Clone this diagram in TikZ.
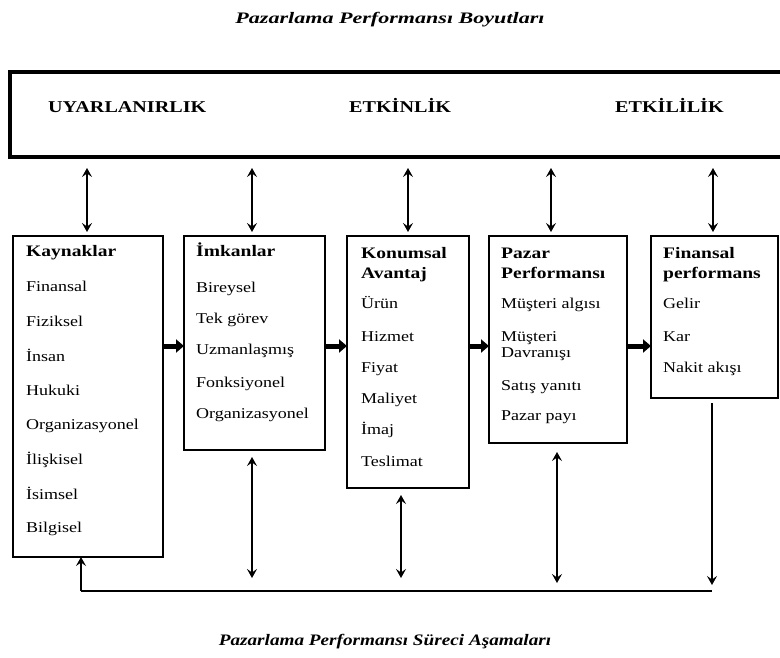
\documentclass[tikz,border=0pt]{standalone}
\usepackage{fontspec}
\setmainfont{Liberation Serif}
\newfontfamily\itemfont[FakeStretch=1.2]{Liberation Serif}
\newfontfamily\headfont[FakeStretch=1.22]{Liberation Serif}
\newfontfamily\topcapfont[FakeStretch=1.38]{Liberation Serif}
\newfontfamily\botcapfont[FakeStretch=1.2]{Liberation Serif}
\usetikzlibrary{arrows.meta}

\tikzset{
  panel/.style={draw, line width=2.8pt, anchor=north west, inner sep=0pt, outer sep=0pt},
  item/.style={anchor=base west, inner sep=0pt, font=\itemfont\fontsize{15}{17}\selectfont},
  head/.style={anchor=base west, inner sep=0pt, font=\headfont\bfseries\fontsize{16}{19}\selectfont},
  dimlabel/.style={anchor=base west, inner sep=0pt, font=\headfont\bfseries\fontsize{16.5}{19}\selectfont},
  caption/.style={anchor=base, inner sep=0pt},
  tip/.tip={Stealth[length=9pt,width=10pt,inset=3.5pt]},
  dbl/.style={line width=2.5pt, tip-tip},
  down/.style={line width=2.5pt, -tip},
  flow/.style={line width=5pt, -{Triangle[length=8pt,width=13pt]}},
  rail/.style={line width=2.6pt},
}

\begin{document}
\begin{tikzpicture}[x=1pt, y=-1pt]
  \useasboundingbox (0,0) rectangle (780,657);

  % caption above the dimensions band
  \node[caption, font=\topcapfont\bfseries\itshape\fontsize{16}{18}\selectfont] (topcap) at (390,23) {Pazarlama Performansı Boyutları};

  % dimensions band
  \node[panel, line width=3.8pt, minimum width=800pt, minimum height=85pt] (dims) at (10,72) {};
  \node[dimlabel] (uyar) at (48,112) {UYARLANIRLIK};
  \node[dimlabel] (etkin) at (349,112) {ETKİNLİK};
  \node[dimlabel] (etkil) at (615,112) {ETKİLİLİK};

  % process stage boxes
  \node[panel, minimum width=150pt, minimum height=321pt] (kay) at (13,236) {};
  \node[panel, minimum width=141pt, minimum height=214pt] (imk) at (184,236) {};
  \node[panel, minimum width=122pt, minimum height=252pt] (kon) at (347,236) {};
  \node[panel, minimum width=138pt, minimum height=207pt] (paz) at (489,236) {};
  \node[panel, minimum width=127pt, minimum height=162pt] (fin) at (651,236) {};

  % Kaynaklar
  \node[head] (kay0) at (26,256) {Kaynaklar};
  \node[item] (kay1) at (26,291) {Finansal};
  \node[item] (kay2) at (26,326) {Fiziksel};
  \node[item] (kay3) at (26,361) {İnsan};
  \node[item] (kay4) at (26,395) {Hukuki};
  \node[item] (kay5) at (26,429) {Organizasyonel};
  \node[item] (kay6) at (26,464) {İlişkisel};
  \node[item] (kay7) at (26,499) {İsimsel};
  \node[item] (kay8) at (26,532) {Bilgisel};

  % Imkanlar
  \node[head] (imk0) at (196,256) {İmkanlar};
  \node[item] (imk1) at (196,292) {Bireysel};
  \node[item] (imk2) at (196,323) {Tek görev};
  \node[item] (imk3) at (196,354) {Uzmanlaşmış};
  \node[item] (imk4) at (196,387) {Fonksiyonel};
  \node[item] (imk5) at (196,418) {Organizasyonel};

  % Konumsal Avantaj
  \node[head] (kon0) at (361,258) {Konumsal};
  \node[head] (kon0b) at (361,278) {Avantaj};
  \node[item] (kon1) at (361,308) {Ürün};
  \node[item] (kon2) at (361,341) {Hizmet};
  \node[item] (kon3) at (361,372) {Fiyat};
  \node[item] (kon4) at (361,403) {Maliyet};
  \node[item] (kon5) at (361,434) {İmaj};
  \node[item] (kon6) at (361,466) {Teslimat};

  % Pazar Performansi
  \node[head] (paz0) at (501,258) {Pazar};
  \node[head] (paz0b) at (501,278) {Performansı};
  \node[item] (paz1) at (501,308) {Müşteri algısı};
  \node[item] (paz2) at (501,341) {Müşteri};
  \node[item] (paz2b) at (501,357) {Davranışı};
  \node[item] (paz3) at (501,390) {Satış yanıtı};
  \node[item] (paz4) at (501,420) {Pazar payı};

  % Finansal performans
  \node[head] (fin0) at (663,258) {Finansal};
  \node[head] (fin0b) at (663,278) {performans};
  \node[item] (fin1) at (663,308) {Gelir};
  \node[item] (fin2) at (663,341) {Kar};
  \node[item] (fin3) at (663,372) {Nakit akışı};

  % caption below the process line
  \node[caption, font=\botcapfont\bfseries\itshape\fontsize{16}{18}\selectfont] (botcap) at (385,645) {Pazarlama Performansı Süreci Aşamaları};

  % columns of the vertical links
  \coordinate (c1) at (87,0);
  \coordinate (c2) at (252,0);
  \coordinate (c3) at (408,0);
  \coordinate (c4) at (551,0);
  \coordinate (c5) at (713,0);

  % links between the band and each stage
  \draw[dbl, shorten <=11pt, shorten >=4pt] (dims.south -| c1) -- (kay.north -| c1);
  \draw[dbl, shorten <=11pt, shorten >=4pt] (dims.south -| c2) -- (imk.north -| c2);
  \draw[dbl, shorten <=11pt, shorten >=4pt] (dims.south -| c3) -- (kon.north -| c3);
  \draw[dbl, shorten <=11pt, shorten >=4pt] (dims.south -| c4) -- (paz.north -| c4);
  \draw[dbl, shorten <=11pt, shorten >=4pt] (dims.south -| c5) -- (fin.north -| c5);

  % flow from stage to stage
  \coordinate (fy) at (0,346);
  \draw[flow] (kay.east |- fy) -- (imk.west |- fy);
  \draw[flow] (imk.east |- fy) -- (kon.west |- fy);
  \draw[flow] (kon.east |- fy) -- (paz.west |- fy);
  \draw[flow] (paz.east |- fy) -- (fin.west |- fy);

  % feedback line along the bottom
  \coordinate (b1) at (81,591);
  \coordinate (b2) at (252,591);
  \coordinate (b3) at (401,591);
  \coordinate (b4) at (557,591);
  \coordinate (b5) at (712,591);
  \draw[rail] (b1) -- (b5);
  \draw[line width=2.8pt, -tip] (b1) -- (kay.south -| b1);
  \draw[dbl, shorten <=7pt, shorten >=13pt] (imk.south -| b2) -- (b2);
  \draw[dbl, shorten <=7pt, shorten >=13pt] (kon.south -| b3) -- (b3);
  \draw[dbl, shorten <=9pt, shorten >=8pt] (paz.south -| b4) -- (b4);
  \draw[down, shorten <=5pt, shorten >=6pt] (fin.south -| b5) -- (b5);
\end{tikzpicture}
\end{document}
